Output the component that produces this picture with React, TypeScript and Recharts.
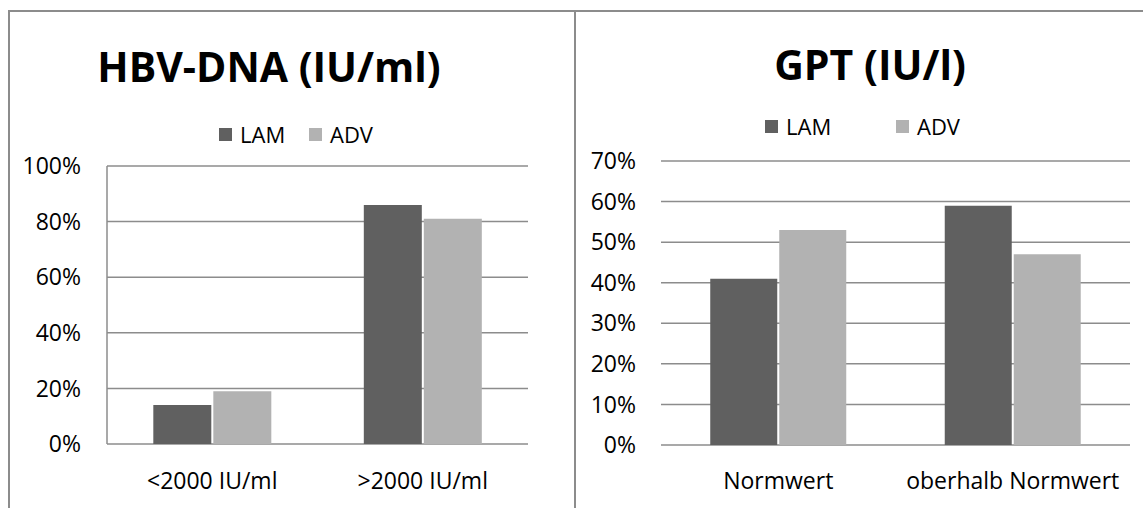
import React from 'react';
import { BarChart, Bar, XAxis, YAxis, CartesianGrid, Legend } from 'recharts';

const categoriesDNA = ['<2000 IU/ml', '>2000 IU/ml'];
const lamDNA = [14, 86];
const advDNA = [19, 81];

const categoriesGPT = ['Normwert', 'oberhalb Normwert'];
const lamGPT = [41, 59];
const advGPT = [53, 47];

const seriesNames = ['LAM', 'ADV'];
const seriesColors = ['#606060', '#b2b2b2'];

const ticksDNA = [0, 20, 40, 60, 80, 100];
const ticksGPT = [0, 10, 20, 30, 40, 50, 60, 70];

const titleDNA = 'HBV-DNA (IU/ml)';
const titleGPT = 'GPT (IU/l)';

const FONT = '"Open Sans", "DejaVu Sans", sans-serif';
const GRID = '#8c8c8c';

const dataDNA = categoriesDNA.map((c, i) => ({ cat: c, LAM: lamDNA[i], ADV: advDNA[i] }));
const dataGPT = categoriesGPT.map((c, i) => ({ cat: c, LAM: lamGPT[i], ADV: advGPT[i] }));

const pct = (v: number) => `${v}%`;

function makeLegend(slot: number) {
  return () => (
    <div style={{ display: 'flex', alignItems: 'center', fontFamily: FONT, fontSize: 22, lineHeight: '22px', color: '#000' }}>
      {seriesNames.map((name, i) => (
        <div key={name} style={{ display: 'flex', alignItems: 'center', width: slot }}>
          <span style={{ display: 'inline-block', width: 13, height: 13, background: seriesColors[i], marginRight: 8 }} />
          <span>{name}</span>
        </div>
      ))}
    </div>
  );
}

const tickStyle = { fontFamily: FONT, fontSize: 23, fill: '#000' };

export default function App() {
  return (
    <div style={{ position: 'absolute', left: 0, top: 0, width: 1143, height: 508, background: '#fff', overflow: 'hidden' }}>
      {/* panel borders */}
      <div style={{ position: 'absolute', left: 8, top: 10, width: 1135, height: 2, background: GRID }} />
      <div style={{ position: 'absolute', left: 8, top: 10, width: 2, height: 498, background: GRID }} />
      <div style={{ position: 'absolute', left: 574, top: 10, width: 2, height: 498, background: GRID }} />

      {/* titles */}
      <div style={{ position: 'absolute', left: 69, top: 46, width: 400, textAlign: 'center', fontFamily: FONT, fontWeight: 700, fontSize: 41, lineHeight: '41px', color: '#000', whiteSpace: 'nowrap' }}>
        {titleDNA}
      </div>
      <div style={{ position: 'absolute', left: 670, top: 44, width: 400, textAlign: 'center', fontFamily: FONT, fontWeight: 700, fontSize: 41, lineHeight: '41px', color: '#000', whiteSpace: 'nowrap' }}>
        {titleGPT}
      </div>

      {/* left chart */}
      <div style={{ position: 'absolute', left: 0, top: 0 }}>
        <BarChart width={575} height={508} data={dataDNA} margin={{ top: 166, right: 47, bottom: 24, left: 0 }} barCategoryGap="22%" barGap={2}>
          <CartesianGrid horizontal vertical={false} stroke={GRID} strokeWidth={1.5} />
          <XAxis dataKey="cat" interval={0} tickLine={false} axisLine={false} tickSize={0} tickMargin={29} height={40} tick={tickStyle} />
          <YAxis width={107} domain={[0, 100]} ticks={ticksDNA} tickFormatter={pct} tickLine={false} tickSize={0} tickMargin={26} axisLine={{ stroke: GRID, strokeWidth: 1.5 }} tick={tickStyle} />
          <Legend verticalAlign="middle" align="center" layout="horizontal" wrapperStyle={{ position: 'absolute', left: 219, top: 123, width: 220, height: 22 }} content={makeLegend(90)} />
          <Bar dataKey={seriesNames[0]} name={seriesNames[0]} fill={seriesColors[0]} isAnimationActive={false} />
          <Bar dataKey={seriesNames[1]} name={seriesNames[1]} fill={seriesColors[1]} isAnimationActive={false} />
        </BarChart>
      </div>

      {/* right chart */}
      <div style={{ position: 'absolute', left: 575, top: 0 }}>
        <BarChart width={568} height={508} data={dataGPT} margin={{ top: 161, right: 13, bottom: 23, left: 0 }} barCategoryGap="21%" barGap={2}>
          <CartesianGrid horizontal vertical={false} stroke={GRID} strokeWidth={1.5} />
          <XAxis dataKey="cat" interval={0} tickLine={false} axisLine={false} tickSize={0} tickMargin={28} height={40} tick={tickStyle} />
          <YAxis width={86} domain={[0, 70]} ticks={ticksGPT} tickFormatter={pct} tickLine={false} tickSize={0} tickMargin={25} axisLine={false} tick={tickStyle} />
          <Legend verticalAlign="middle" align="center" layout="horizontal" wrapperStyle={{ position: 'absolute', left: 190, top: 115, width: 280, height: 22 }} content={makeLegend(131)} />
          <Bar dataKey={seriesNames[0]} name={seriesNames[0]} fill={seriesColors[0]} isAnimationActive={false} />
          <Bar dataKey={seriesNames[1]} name={seriesNames[1]} fill={seriesColors[1]} isAnimationActive={false} />
        </BarChart>
      </div>
    </div>
  );
}
